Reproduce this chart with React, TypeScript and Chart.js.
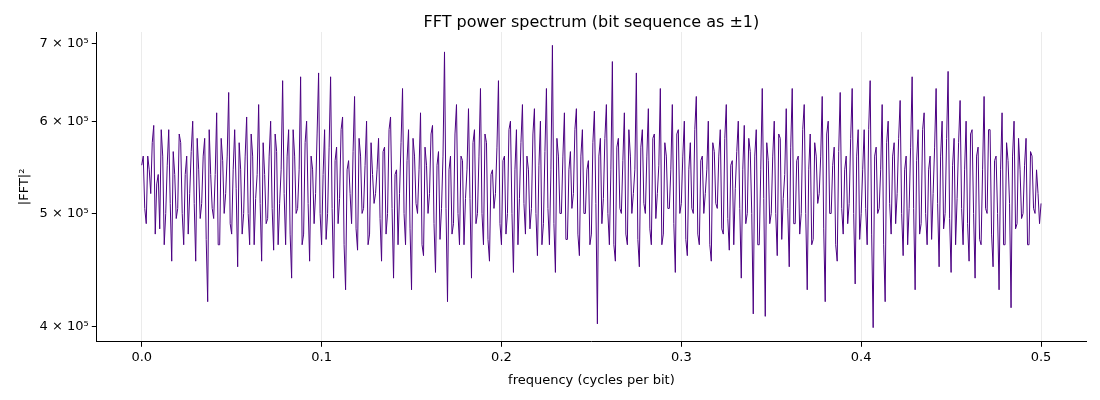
import React, { useEffect, useRef } from "react";
import { Chart, registerables } from "chart.js";
Chart.register(...registerables);

const N = 600;
const powerK: number[] = [
550,505,560,520,595,530,485,560,500,590,455,540,505,575,470,560,520,600,455,545,
510,580,420,540,495,610,470,555,520,635,480,590,450,545,500,605,470,560,515,620,
455,540,495,600,465,565,510,650,470,590,440,560,505,655,480,600,455,545,520,660,
470,590,500,655,440,570,515,605,430,555,490,630,465,560,505,600,480,540,520,580,
455,570,500,605,440,545,520,640,470,590,430,560,500,610,460,550,520,595,445,565,
505,688,420,560,490,620,470,555,515,615,440,590,500,640,470,575,455,545,520,650,
470,560,500,600,445,590,515,620,480,545,505,615,460,600,490,640,470,697,445,560,
500,610,475,565,520,615,460,590,500,555,480,612,402,580,515,620,470,675,455,580,
500,610,470,560,520,660,450,590,500,615,470,585,520,640,480,560,505,620,445,590,
510,600,460,575,500,630,470,560,520,600,455,565,505,590,480,620,465,555,525,600,
440,595,500,565,410,590,470,640,408,555,500,600,460,580,515,615,450,640,490,560,
500,620,430,585,475,560,520,630,420,600,500,570,455,635,480,560,510,640,435,590,
500,590,470,650,399,570,505,620,420,600,480,575,520,625,460,560,505,655,430,590,
490,610,470,560,520,640,450,600,500,662,445,580,515,625,470,600,455,590,440,570,
470,630,500,590,450,560,430,610,470,555,415,600,490,545,500,580,470,560,500,520,
510
];
// values at the half-steps between the points above
const powerKMid: number[] = [
560,490,545,575,480,540,590,470,550,510,565,495,585,500,540,480,565,510,580,495,
560,475,590,505,540,470,580,500,560,490,545,525,575,480,560,500,585,470,540,510,
575,490,560,505,585,470,545,520,560,480,590,500,545,470,575,510,560,490,585,500,
540,475,570,505,555,490,590,470,545,520,565,485,580,500,550,470,575,510,545,495,
565,480,590,505,540,470,575,500,555,485,580,510,545,470,570,500,585,490,550,475,
560,505,545,480,585,500,560,470,545,515,575,490,560,500,585,475,540,505,570,490,
555,480,590,500,545,470,575,510,560,485,585,500,550,470,565,505,545,490,580,500,
560,475,545,505,590,480,560,500,545,470,575,510,560,490,580,500,545,470,570,505,
555,480,590,500,545,475,570,510,560,485,580,495,550,470,575,505,545,490,585,500,
560,475,545,505,590,480,555,500,545,470,575,510,560,485,580,495,550,470,565,505,
545,490,580,500,560,470,545,515,575,490,560,500,585,475,540,505,570,490,555,480,
590,500,545,470,575,510,560,485,585,500,550,470,565,505,545,490,580,500,560,475,
545,505,590,480,560,500,545,470,575,510,560,490,580,500,545,470,570,505,555,480,
590,500,545,475,570,510,560,485,580,495,550,470,575,505,545,490,585,500,560,475,
545,505,590,480,555,500,545,470,575,510,560,485,580,495,550,470,565,505,545,490
];
const xTicks = [0, 0.1, 0.2, 0.3, 0.4, 0.5];
const yTicks = [4e5, 5e5, 6e5, 7e5];
const titleText = "FFT power spectrum (bit sequence as ±1)";
const font = "'DejaVu Sans', sans-serif";

const titlePlugin = {
  id: "centeredTitle",
  afterDraw(chart: any) {
    const { ctx, chartArea } = chart;
    ctx.save();
    ctx.font = `16px ${font}`;
    ctx.fillStyle = "#000";
    ctx.textAlign = "center";
    ctx.textBaseline = "middle";
    ctx.fillText(titleText, (chartArea.left + chartArea.right) / 2, 23);
    ctx.restore();
  },
};

export default function App() {
  const ref = useRef<HTMLCanvasElement>(null);
  useEffect(() => {
    const pts: { x: number; y: number }[] = [];
    powerK.forEach((v, i) => {
      pts.push({ x: i / N, y: v * 1000 });
      if (i < powerKMid.length) pts.push({ x: (i + 0.5) / N, y: powerKMid[i] * 1000 });
    });
    const chart = new Chart(ref.current!, {
      type: "line",
      data: {
        datasets: [{
          data: pts,
          borderColor: "#4b0082",
          borderWidth: 1,
          pointRadius: 0,
          tension: 0,
        }],
      },
      plugins: [titlePlugin],
      options: {
        animation: false,
        responsive: false,
        parsing: false as any,
        layout: { padding: { left: 13, right: 14, top: 32, bottom: 8 } },
        plugins: {
          legend: { display: false },
          tooltip: { enabled: false },
          title: { display: false },
        },
        scales: {
          x: {
            type: "linear", min: -0.025, max: 0.525,
            afterBuildTicks: (a: any) => { a.ticks = xTicks.map((v) => ({ value: v })); },
            ticks: { color: "#000", font: { family: font, size: 13 }, callback: (v: any) => Number(v).toFixed(1) },
            grid: { color: "#ebebeb", tickColor: "#000", tickLength: 5 },
            border: { color: "#000" },
            title: { display: true, text: "frequency (cycles per bit)", color: "#000", font: { family: font, size: 13 } },
          },
          y: {
            type: "logarithmic", min: 3.88e5, max: 7.156e5,
            afterBuildTicks: (a: any) => { a.ticks = yTicks.map((v) => ({ value: v })); },
            ticks: { color: "#000", font: { family: font, size: 13 }, callback: (v: any) => `${Number(v) / 1e5} × 10⁵` },
            grid: { display: true, drawOnChartArea: false, tickColor: "#000", tickLength: 5 },
            border: { color: "#000" },
            title: { display: true, text: "|FFT|²", color: "#000", font: { family: font, size: 13 } },
          },
        },
      },
    });
    return () => chart.destroy();
  }, []);
  return (
    <div style={{ position: "absolute", left: 0, top: 0, width: 1100, height: 400, background: "#fff" }}>
      <canvas ref={ref} width={1100} height={400} />
    </div>
  );
}
